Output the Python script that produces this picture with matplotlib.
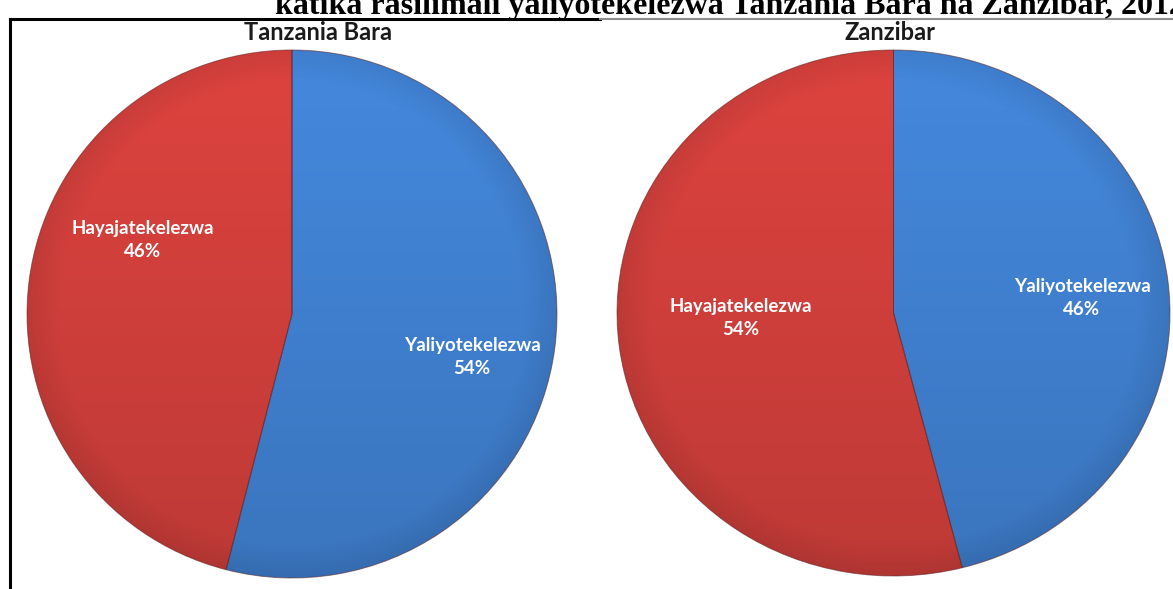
import numpy as np
import matplotlib
matplotlib.use("Agg")
import matplotlib.pyplot as plt
from matplotlib.colors import to_rgb

W, H = 1173, 589

title = "katika rasilimali yaliyotekelezwa Tanzania Bara na Zanzibar, 2012"
regions = ["Tanzania Bara", "Zanzibar"]
categories = ["Yaliyotekelezwa", "Hayajatekelezwa"]
bara_values = [54, 46]
zanzibar_values = [46, 54]
slice_colors = ["#4182d3", "#d3403c"]


def px_box(left, top, right, bottom):
    return [left / W, 1 - bottom / H, (right - left) / W, (bottom - top) / H]


def shade_wedge(ax, wedge, color):
    # vertical gradient plus slightly darker rim, clipped to the slice
    yy, xx = np.mgrid[1:-1:300j, -1:1:300j]
    r = np.sqrt(xx ** 2 + yy ** 2)
    vert = 1.05 - 0.15 * (1 - yy) / 2
    rim = 1 - 0.08 * np.clip((r - 0.88) / 0.12, 0, 1)
    f = (vert * rim)[..., None]
    img = np.clip(np.array(to_rgb(color))[None, None, :] * f, 0, 1)
    im = ax.imshow(img, extent=(-1, 1, -1, 1), origin="upper",
                   aspect="auto", zorder=2, interpolation="bilinear")
    im.set_clip_path(wedge)


def draw_pie(box, values, label_pos):
    ax = fig.add_axes(px_box(*box))
    wedges, _ = ax.pie(values, colors=slice_colors, startangle=90,
                       counterclock=False, radius=1,
                       wedgeprops=dict(edgecolor=(0.35, 0.12, 0.12, 0.55),
                                       linewidth=0.7))
    for w, c in zip(wedges, slice_colors):
        shade_wedge(ax, w, c)
        w.set_zorder(3)
        w.set_facecolor("none")
    ax.set_xlim(-1.0, 1.0)
    ax.set_ylim(-1.0, 1.0)
    ax.set_aspect("auto")
    ax.axis("off")
    for cat, v, (lx, ly) in zip(categories, values, label_pos):
        fig.text(lx / W, 1 - ly / H, f"{cat}\n{v}%", color="white",
                 fontsize=13.5, fontweight="bold", family="Lato",
                 ha="center", va="center", linespacing=1.4, zorder=5)
    return ax


fig = plt.figure(figsize=(W / 100, H / 100), dpi=100)

# pies
draw_pie((27, 50, 557, 578), bara_values, [(472, 357), (143, 240)])
draw_pie((617, 50, 1170, 576), zanzibar_values, [(1082, 298), (741, 318)])

# sub titles
fig.text(318 / W, 1 - 32 / H, regions[0], fontsize=17, fontweight="bold",
         family="Lato", ha="center", va="center", color="#1a1a1a")
fig.text(890 / W, 1 - 32 / H, regions[1], fontsize=17, fontweight="bold",
         family="Lato", ha="center", va="center", color="#1a1a1a")

# document title, cut off at the top and right of the image as in the source
fig.text(275 / W, 1 - 14 / H, title, fontsize=23, fontweight="bold",
         family="Liberation Serif", ha="left", va="baseline")

# frame lines of the original document
fig.add_artist(plt.Line2D([10 / W, 10 / W], [0, 1 - 19 / H], color="black", lw=2.2))
fig.add_artist(plt.Line2D([10 / W, 600 / W], [1 - 19 / H, 1 - 19 / H], color="black", lw=2.2))
fig.add_artist(plt.Line2D([600 / W, 1], [1 - 19 / H, 1 - 19 / H], color="#8c8c8c", lw=1.5))

fig.savefig("out.png", dpi=100)
